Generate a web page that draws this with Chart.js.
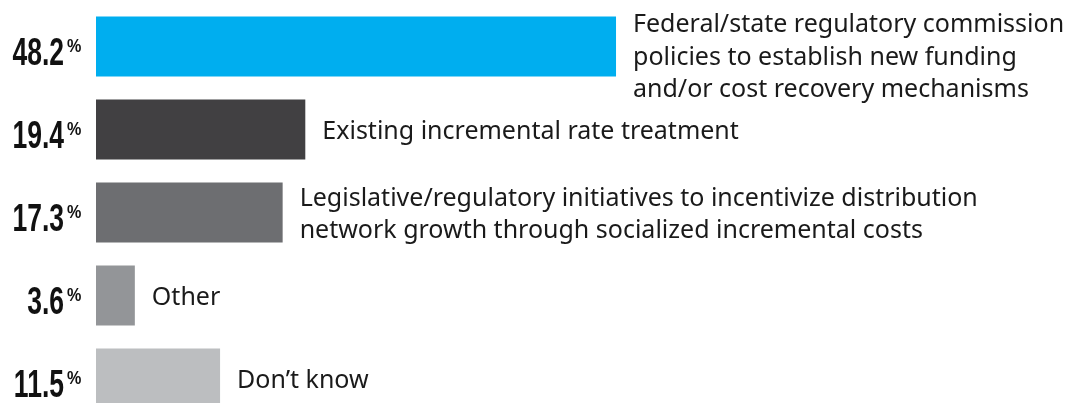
<!DOCTYPE html>
<html>
<head>
<meta charset="utf-8">
<script src="https://cdn.jsdelivr.net/npm/chart.js@4"></script>
<style>
  html, body { margin: 0; padding: 0; background: #ffffff; overflow: hidden; }
  #wrap { position: relative; width: 1073px; height: 420px; }
</style>
</head>
<body>
<div id="wrap"><canvas id="c"></canvas></div>
<script>
const categories = [
  ["Federal/state regulatory commission", "policies to establish new funding", "and/or cost recovery mechanisms"],
  ["Existing incremental rate treatment"],
  ["Legislative/regulatory initiatives to incentivize distribution", "network growth through socialized incremental costs"],
  ["Other"],
  ["Don\u2019t know"]
];
const values = [48.2, 19.4, 17.3, 3.6, 11.5];
const valueLabels = ["48.2", "19.4", "17.3", "3.6", "11.5"];
const barColors = ["#00AEEF", "#414042", "#6D6E71", "#939598", "#BCBEC0"];

const labelPlugin = {
  id: 'labels',
  afterDatasetsDraw(chart) {
    const ctx = chart.ctx;
    const meta = chart.getDatasetMeta(0);
    const area = chart.chartArea;
    ctx.save();
    meta.data.forEach((bar, i) => {
      // left percentage label (condensed)
      const numRight = area.left - 32;
      const base = bar.y + 18;
      ctx.save();
      ctx.fillStyle = '#111111';
      ctx.textBaseline = 'alphabetic';
      ctx.textAlign = 'right';
      ctx.font = 'bold 39px "Liberation Sans Narrow", "Liberation Sans", sans-serif';
      ctx.translate(numRight, base);
      ctx.scale(0.68, 1);
      ctx.fillText(valueLabels[i], 0, 0);
      ctx.restore();
      ctx.save();
      ctx.fillStyle = '#111111';
      ctx.textBaseline = 'alphabetic';
      ctx.textAlign = 'left';
      ctx.font = 'bold 19px "Liberation Sans Narrow", "Liberation Sans", sans-serif';
      ctx.translate(numRight + 3, base - 13);
      ctx.scale(0.85, 1);
      ctx.fillText('%', 0, 0);
      ctx.restore();

      // right category label
      const lines = categories[i];
      const lh = 32.5;
      let firstBase = bar.y + 9.5 - (lines.length - 1) * lh / 2;
      if (firstBase < area.top + 27) firstBase = area.top + 27;
      ctx.fillStyle = '#1a1a1a';
      ctx.textAlign = 'left';
      ctx.textBaseline = 'alphabetic';
      ctx.font = '25px "Noto Sans", "Open Sans", sans-serif';
      lines.forEach((ln, k) => {
        ctx.fillText(ln, bar.x + 17, firstBase + k * lh);
      });
    });
    ctx.restore();
  }
};

new Chart(document.getElementById('c'), {
  type: 'bar',
  data: {
    labels: categories.map(c => c.join(' ')),
    datasets: [{
      data: values,
      backgroundColor: barColors,
      borderWidth: 0,
      categoryPercentage: 60 / 83,
      barPercentage: 1
    }]
  },
  options: {
    indexAxis: 'y',
    responsive: true,
    maintainAspectRatio: false,
    animation: false,
    layout: { padding: { left: 96, right: 6, top: 5, bottom: 0 } },
    plugins: { legend: { display: false }, tooltip: { enabled: false } },
    scales: {
      x: { min: 0, max: 90, display: false },
      y: { display: false }
    }
  },
  plugins: [labelPlugin]
});
</script>
</body>
</html>
